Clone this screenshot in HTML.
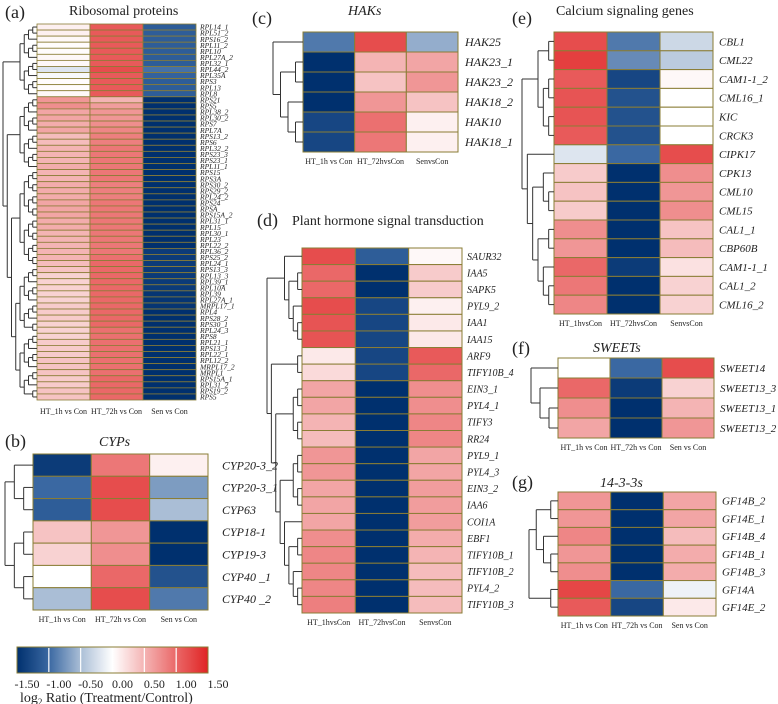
<!DOCTYPE html>
<html><head><meta charset="utf-8">
<style>
html,body{margin:0;padding:0;background:#fff;}
svg{display:block;font-family:"Liberation Serif",serif;}
</style></head>
<body>
<svg id="fig" width="778" height="704" viewBox="0 0 778 704"></svg>
<script>
const NS="http://www.w3.org/2000/svg";
const svg=document.getElementById('fig');

// ---------- DATA ----------
const colLabelsA=["HT_1h vs Con","HT_72h vs Con","Sen vs Con"];
const colLabelsC=["HT_1h vs Con","HT_72hvsCon","SenvsCon"];
const colLabelsD=["HT_1hvsCon","HT_72hvsCon","SenvsCon"];

const genesA=["RPL14_1","RPL51_2","RPS16_2","RPL11_2","RPL10","RPL27A_2","RPL32_1","RPL44_2","RPL35A","RPS3","RPL13","RPL8","RPS21","RPS5","RPL38_2","RPL30_2","RPS7","RPL7A","RPS13_2","RPS6","RPL32_2","RPS23_3","RPS23_1","RPL11_1","RPS15","RPS3A","RPS30_2","RPS29_2","RPL24_2","RPS24","RPSA","RPS15A_2","RPL31_1","RPL15","RPL30_1","RPL23","RPL22_2","RPL36_2","RPS25_2","RPL24_1","RPS13_3","RPL13_3","RPL39_1","RPL10A","RPL39","RPL27A_1","MRPL17_1","RPL4","RPS28_2","RPS30_1","RPL24_3","RPS8","RPL21_1","RPS13_1","RPL22_1","RPL12_2","MRPL17_2","MRPL1","RPS15A_1","RPL31_2","RPS19_2","RPS5"];
const a1=[0.1,0.1,0.05,0.02,0.02,0.05,0.05,-0.2,-0.05,0.02,0.02,0.05,0.7,0.75,0.6,0.6,0.55,0.6,0.45,0.45,0.5,0.5,0.5,0.55,0.5,0.5,0.55,0.55,0.55,0.6,0.6,0.6,0.55,0.55,0.5,0.5,0.5,0.5,0.5,0.45,0.4,0.3,0.3,0.3,0.3,0.3,0.35,0.35,0.35,0.3,0.3,0.3,0.35,0.35,0.35,0.4,0.4,0.4,0.35,0.35,0.4,0.4];
const a2=[1.1,1.1,1.1,1.1,1.1,1.1,1.1,1.2,1.1,1.1,1.1,1.1,0.5,0.65,0.7,0.7,0.75,0.8,0.85,0.85,0.9,0.9,0.9,0.9,0.9,0.9,0.85,0.85,0.85,0.9,0.9,0.9,0.9,0.9,0.9,0.9,0.9,0.9,0.95,1.0,1.0,1.0,1.0,1.0,1.0,1.0,1.0,1.0,1.0,1.0,0.95,0.95,0.95,0.95,0.95,0.95,0.95,0.95,1.0,1.0,1.0,1.0];
const a3=[-1.1,-1.1,-1.1,-1.1,-1.1,-1.1,-1.1,-0.95,-1.05,-1.1,-1.1,-1.1,-1.5,-1.5,-1.5,-1.5,-1.5,-1.5,-1.5,-1.5,-1.5,-1.5,-1.5,-1.5,-1.5,-1.5,-1.5,-1.5,-1.5,-1.5,-1.5,-1.5,-1.5,-1.5,-1.5,-1.5,-1.5,-1.4,-1.4,-1.4,-1.4,-1.4,-1.4,-1.4,-1.45,-1.45,-1.45,-1.5,-1.5,-1.5,-1.5,-1.5,-1.5,-1.5,-1.5,-1.5,-1.5,-1.5,-1.5,-1.5,-1.5,-1.5];

const genesB=["CYP20-3_2","CYP20-3_1","CYP63","CYP18-1","CYP19-3","CYP40 _1","CYP40 _2"];
const b1=[-1.4,-1.0,-1.1,0.4,0.3,0.0,-0.5];
const b2=[0.9,1.2,1.2,0.7,0.75,1.0,1.2];
const b3=[0.1,-0.7,-0.5,-1.5,-1.5,-1.2,-0.9];

const genesC=["HAK25","HAK23_1","HAK23_2","HAK18_2","HAK10","HAK18_1"];
const c1=[-0.9,-1.5,-1.5,-1.5,-1.3,-1.3];
const c2=[1.2,0.5,0.4,0.7,0.95,0.9];
const c3=[-0.6,0.6,0.7,0.4,0.1,0.1];

const genesD=["SAUR32","IAA5","SAPK5","PYL9_2","IAA1","IAA15","ARF9","TIFY10B_4","EIN3_1","PYL4_1","TIFY3","RR24","PYL9_1","PYL4_3","EIN3_2","IAA6","COI1A","EBF1","TIFY10B_1","TIFY10B_2","PYL4_2","TIFY10B_3"];
const d1=[1.2,1.0,1.0,1.2,1.15,1.15,0.15,0.25,0.6,0.6,0.5,0.45,0.7,0.7,0.6,0.6,0.6,0.75,0.8,0.8,0.8,0.85];
const d2=[-1.1,-1.5,-1.5,-1.3,-1.3,-1.3,-1.3,-1.3,-1.5,-1.5,-1.5,-1.5,-1.5,-1.5,-1.5,-1.5,-1.5,-1.5,-1.5,-1.5,-1.5,-1.5];
const d3=[0.05,0.35,0.35,0.1,0.15,0.15,1.1,1.0,0.75,0.75,0.8,0.8,0.6,0.6,0.65,0.65,0.65,0.55,0.5,0.45,0.45,0.45];

const genesE=["CBL1","CML22","CAM1-1_2","CML16_1","KIC","CRCK3","CIPK17","CPK13","CML10","CML15","CAL1_1","CBP60B","CAM1-1_1","CAL1_2","CML16_2"];
const e1=[1.2,1.3,1.1,1.15,1.15,1.1,-0.2,0.35,0.4,0.35,0.75,0.7,1.0,0.9,0.8];
const e2=[-0.9,-0.8,-1.3,-1.2,-1.2,-1.2,-1.0,-1.5,-1.5,-1.5,-1.5,-1.5,-1.4,-1.5,-1.5];
const e3=[-0.3,-0.4,0.05,0,0,0,1.2,0.75,0.7,0.75,0.4,0.45,0.2,0.3,0.3];

const genesF=["SWEET14","SWEET13_3","SWEET13_1","SWEET13_2"];
const f1=[0.0,1.0,0.75,0.6];
const f2=[-1.0,-1.4,-1.5,-1.5];
const f3=[1.2,0.3,0.5,0.7];

const genesG=["GF14B_2","GF14E_1","GF14B_4","GF14B_1","GF14B_3","GF14A","GF14E_2"];
const g1=[0.7,0.7,0.8,0.7,0.75,1.25,1.1];
const g2=[-1.5,-1.5,-1.5,-1.5,-1.5,-1.0,-1.3];
const g3=[0.6,0.6,0.45,0.55,0.55,-0.1,0.15];

const scaleTicks=[-1.5,-1.0,-0.5,0.0,0.5,1.0,1.5];
const scaleTickLabels=["-1.50","-1.00","-0.50","0.00","0.50","1.00","1.50"];

// ---------- helpers ----------
function el(tag,attrs,parent){const e=document.createElementNS(NS,tag);for(const k in attrs)e.setAttribute(k,attrs[k]);(parent||svg).appendChild(e);return e;}
const stops=[[-1.5,[0,48,110]],[-1.0,[58,104,162]],[-0.5,[170,190,214]],[0,[255,255,255]],[0.5,[244,180,180]],[1.0,[234,104,104]],[1.5,[224,36,36]]];
function color(v){v=Math.max(-1.5,Math.min(1.5,v));for(let i=0;i<stops.length-1;i++){const[a,ca]=stops[i],[b,cb]=stops[i+1];if(v<=b){const t=(v-a)/(b-a);return 'rgb('+ca.map((c,j)=>Math.round(c+(cb[j]-c)*t)).join(',')+')';}}return 'rgb(224,36,36)';}
function txt(s,x,y,size,opts,parent){const t=el('text',Object.assign({x:x,y:y,'font-size':size,fill:'#222'},opts||{}),parent);t.textContent=s;return t;}
function split(arr){if(arr.length<=2)return arr.length===1?arr[0]:arr;const m=Math.ceil(arr.length/2);return [split(arr.slice(0,m)),split(arr.slice(m))];}
function range(a,b){const r=[];for(let i=a;i<b;i++)r.push(i);return r;}

function drawTree(tree,x0,x1,rowY,g){
  function h(n){return Array.isArray(n)?1+Math.max(...n.map(h)):0;}
  const H=h(tree);
  function rec(n){
    if(!Array.isArray(n))return {x:x1,y:rowY(n)};
    const ch=n.map(rec);
    const nx=x1-(h(n)/H)*(x1-x0);
    const ys=ch.map(c=>c.y);
    el('line',{x1:nx,x2:nx,y1:Math.min(...ys),y2:Math.max(...ys),stroke:'#333','stroke-width':1},g);
    ch.forEach(c=>el('line',{x1:nx,x2:c.x,y1:c.y,y2:c.y,stroke:'#333','stroke-width':1},g));
    return {x:nx,y:ys.reduce((s,v)=>s+v,0)/ys.length};
  }
  rec(tree);
}

function panel(p){
  const g=el('g',{});
  
  
  const n=p.genes.length, cw=(p.x1-p.x0)/3, rh=(p.y1-p.y0)/n;
  const cols=[p.v1,p.v2,p.v3];
  const cells=el('g',{},g);
  
  
  for(let c=0;c<3;c++)for(let r=0;r<n;r++){
    const rc=el('rect',{x:p.x0+c*cw,y:p.y0+r*rh,width:cw,height:rh,fill:color(cols[c][r]),stroke:'#8a7d35','stroke-width':p.sw||1},cells);
    
    
  }
  const labs=el('g',{},g);
  
  
  p.genes.forEach((s,r)=>{txt(s,p.x1+p.lgap,p.y0+(r+0.5)*rh+p.lsize*0.35,p.lsize,{'font-style':'italic'},labs);});
  const cl=el('g',{},g);
  
  
  p.cols.forEach((s,c)=>{txt(s,p.x0+(c+0.5)*cw,p.y1+p.cgap,8,{'text-anchor':'middle'},cl);});
  const dg=el('g',{},g);
  
  
  drawTree(p.tree,p.dx,p.x0,r=>p.y0+(r+0.5)*rh,dg);
  const lt=txt(p.letter,p.lx,p.ly,18,{},g);
  
  
  const tt=txt(p.title,p.tx,p.ty,p.tsize||14,p.italic?{'font-style':'italic'}:{},g);
  
  
}

panel({name:'ribosomal',genes:genesA,v1:a1,v2:a2,v3:a3,x0:37,x1:196,y0:24,y1:400,lgap:4,lsize:7.5,cgap:14,cols:colLabelsA,
  tree:[split(range(0,12)),[split(range(12,24)),[split(range(24,40)),split(range(40,62))]]],dx:3,letter:'(a)',lx:5,ly:18,title:'Ribosomal proteins',tx:69,ty:15,sw:0.8});
panel({name:'cyps',genes:genesB,v1:b1,v2:b2,v3:b3,x0:33,x1:208,y0:454,y1:610,lgap:14,lsize:12,cgap:12,cols:colLabelsA,
  tree:[[0,[1,2]],[[3,4],[5,6]]],dx:5,letter:'(b)',lx:5,ly:447,title:'CYPs',tx:99,ty:446,italic:true});
panel({name:'haks',genes:genesC,v1:c1,v2:c2,v3:c3,x0:303,x1:458,y0:32,y1:152,lgap:7,lsize:12,cgap:12,cols:colLabelsC,
  tree:[0,[[1,2],[3,[4,5]]]],dx:273,letter:'(c)',lx:252,ly:24,title:'HAKs',tx:348,ty:15,italic:true});
panel({name:'hormone',genes:genesD,v1:d1,v2:d2,v3:d3,x0:302,x1:462,y0:248,y1:613,lgap:5,lsize:10,cgap:12,cols:colLabelsD,
  tree:[[0,[[1,2],[3,[4,5]]]],[[6,7],[[[8,9],[10,11]],[[[12,13],[14,15]],[16,[[17,18],[19,[20,21]]]]]]]],dx:267,letter:'(d)',lx:257,ly:226,title:'Plant hormone signal transduction',tx:292,ty:225});
panel({name:'calcium',genes:genesE,v1:e1,v2:e2,v3:e3,x0:554,x1:713,y0:32,y1:314,lgap:6,lsize:11,cgap:12,cols:colLabelsD,
  tree:[[[0,1],[[2,3],[4,5]]],[6,[[7,[8,9]],[[10,11],[12,[13,14]]]]]],dx:522,letter:'(e)',lx:512,ly:24,title:'Calcium signaling genes',tx:556,ty:15});
panel({name:'sweets',genes:genesF,v1:f1,v2:f2,v3:f3,x0:558,x1:714,y0:358,y1:438,lgap:6,lsize:11,cgap:12,cols:colLabelsA,
  tree:[0,[1,[2,3]]],dx:531,letter:'(f)',lx:512,ly:354,title:'SWEETs',tx:593,ty:352,italic:true});
panel({name:'fourteen-3-3',genes:genesG,v1:g1,v2:g2,v3:g3,x0:558,x1:716,y0:492,y1:616,lgap:6,lsize:11,cgap:12,cols:colLabelsA,
  tree:[[[0,1],[2,[3,4]]],[5,6]],dx:529,letter:'(g)',lx:512,ly:488,title:'14-3-3s',tx:600,ty:487,italic:true});

// ---------- color scale ----------
const cb=el('g',{});


const defs=el('defs',{},cb);
const lg=el('linearGradient',{id:'grad',x1:'0',x2:'1',y1:'0',y2:'0'},defs);
stops.forEach(s=>el('stop',{offset:((s[0]+1.5)/3*100)+'%','stop-color':color(s[0])},lg));
const cbx0=17,cbx1=208,cby=647,cbh=26;
const vx=v=>cbx0+(v+1.5)/3*(cbx1-cbx0);
const bar=el('rect',{x:cbx0,y:cby,width:cbx1-cbx0,height:cbh,fill:'url(#grad)',stroke:'#8a7d35','stroke-width':1},cb);


scaleTicks.slice(1,-1).forEach(v=>{el('line',{x1:vx(v),x2:vx(v),y1:cby+1,y2:cby+cbh-1,stroke:'#fff','stroke-width':1.2},cb);});
scaleTicks.forEach((v,i)=>{txt(scaleTickLabels[i],vx(v)+10,688,12,{'text-anchor':'middle'},cb);});
const lt=el('text',{x:20,y:702,'font-size':14,fill:'#222'},cb);


lt.innerHTML='log<tspan font-size="9" dy="3">2</tspan><tspan dy="-3"> Ratio (Treatment/Control)</tspan>';
</script>
</body></html>
